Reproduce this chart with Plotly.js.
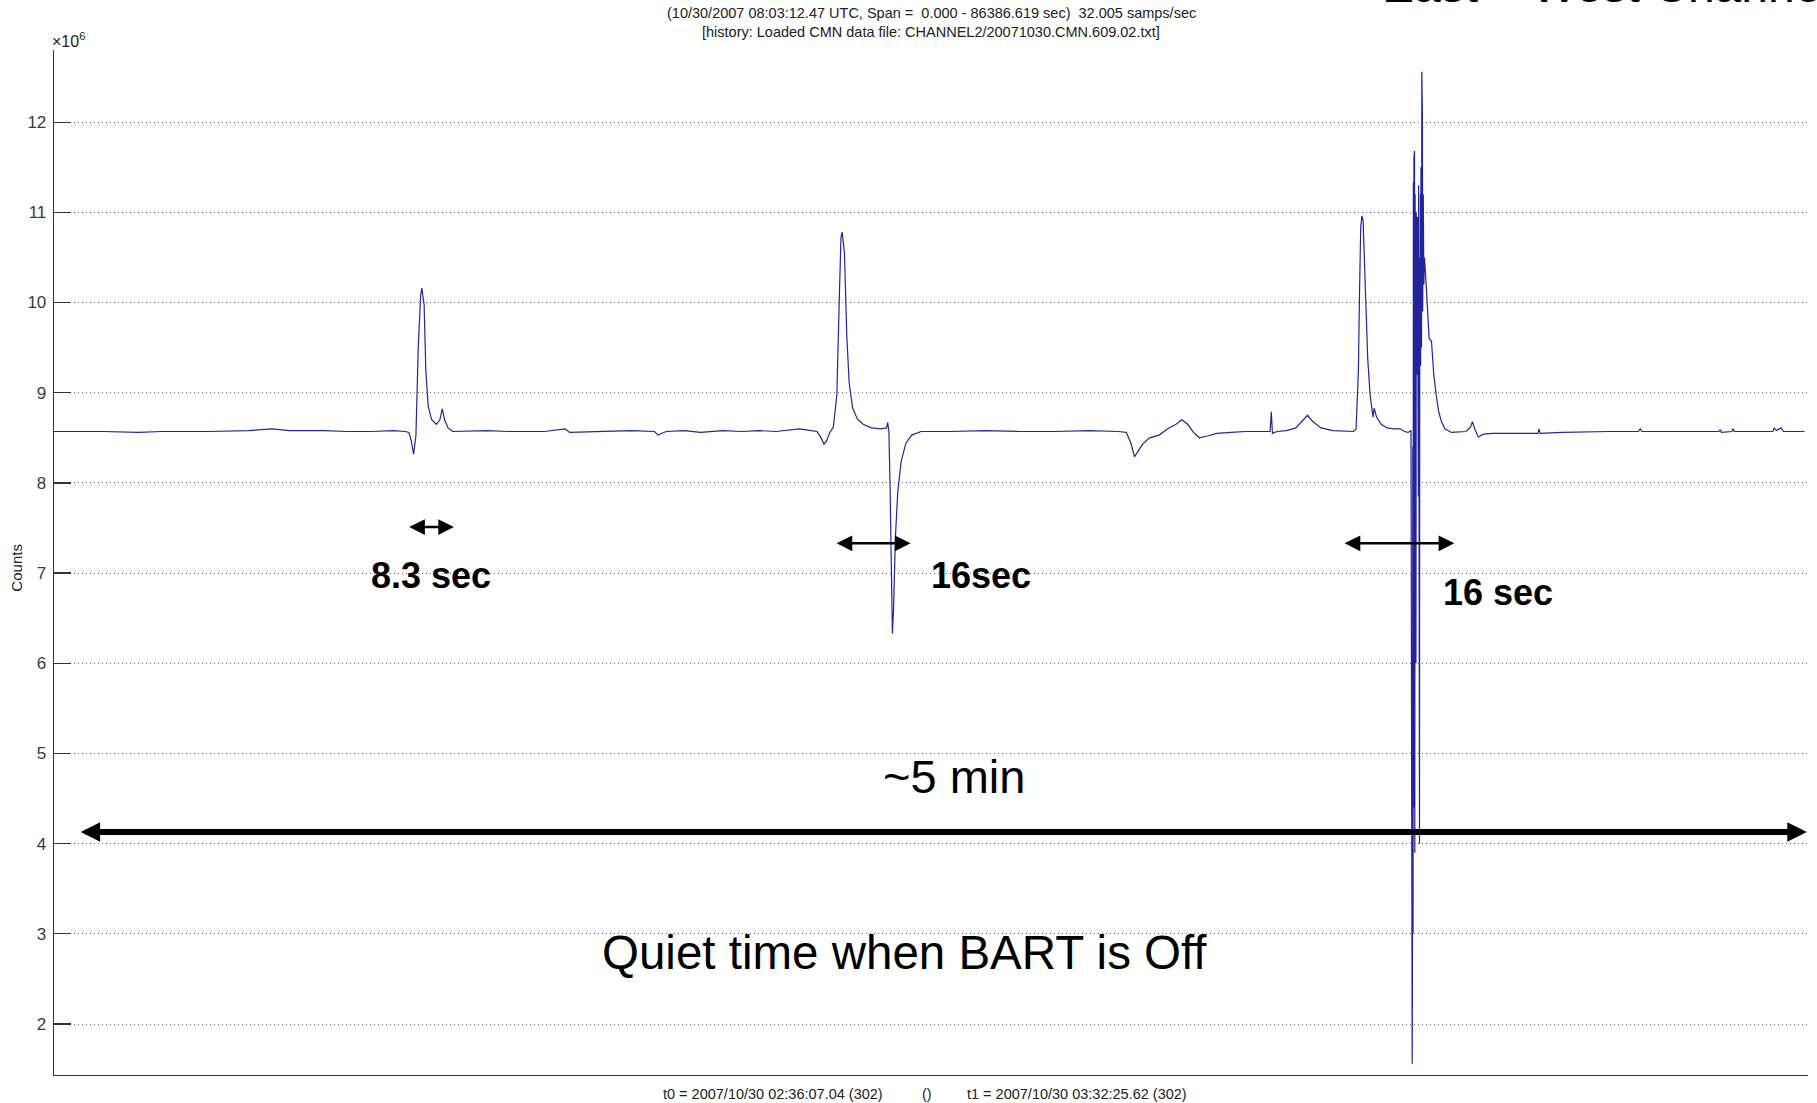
<!DOCTYPE html>
<html>
<head>
<meta charset="utf-8">
<script src="https://cdn.plot.ly/plotly-3.0.1.min.js"></script>
<style>
html, body { margin: 0; padding: 0; background: #ffffff; }
#chart { width: 1817px; height: 1103px; }
</style>
</head>
<body>
<div id="chart"></div>
<script>
// ---- data (time in seconds, counts in units of 10^6) ----
const timeSec = [
  0.0, 8.5, 14.5, 18.4, 26.4, 33.3, 37.3, 40.3, 46.2, 50.2, 54.1, 58.1, 60.1, 60.7, 61.1, 61.5, 61.9, 62.3, 62.7, 62.9,
  63.3, 63.6, 64.0, 64.6, 65.4, 66.0, 66.4, 66.8, 67.4, 68.2, 74.0, 77.9, 83.9, 87.4, 88.2, 93.8, 98.7, 102.7, 103.3, 104.7,
  107.7, 110.6, 114.4, 117.6, 120.6, 123.5, 127.5, 129.5, 130.5, 131.1, 131.7, 132.1, 132.7, 133.3, 133.9, 134.3, 134.6, 134.8, 135.2, 135.6,
  136.0, 136.6, 137.4, 138.4, 139.8, 141.4, 142.4, 142.6, 142.8, 143.0, 143.2, 143.4, 143.6, 143.9, 144.3, 144.9, 145.7, 146.7, 148.3, 153.3,
  159.2, 165.2, 171.1, 177.1, 182.0, 183.4, 184.2, 184.8, 185.4, 186.2, 187.4, 189.0, 190.5, 191.9, 192.9, 193.9, 194.9, 195.9, 197.3, 198.9,
  201.3, 203.8, 206.8, 208.0, 208.2, 208.4, 209.2, 210.8, 212.4, 213.6, 214.4, 215.3, 216.7, 218.7, 220.7, 222.3, 222.7, 223.1, 223.3, 223.5,
  223.7, 223.9, 224.3, 224.7, 225.1, 225.5, 225.6, 225.8, 226.2, 227.0, 228.0, 229.2, 230.2, 231.0, 231.6, 232.1,
  232.30, 232.35, 232.40, 232.45, 232.50, 232.55, 232.60, 232.65, 232.70, 232.75, 232.80, 232.85, 232.90, 232.95, 233.00, 233.05, 233.10, 233.15, 233.20, 233.25,
  233.30, 233.35, 233.40, 233.45, 233.50, 233.55, 233.60, 233.65, 233.70, 233.75, 233.80, 233.90, 233.95, 234.00, 234.05, 234.10, 234.20, 234.30, 234.40, 234.60,
  234.90, 235.20, 235.60, 236.00, 236.40, 236.80, 237.30, 237.90, 239.0, 241.5, 242.3, 242.6, 243.0, 243.6, 244.5, 246.0, 250.0, 253.8, 254.0, 254.2,
  258.0, 263.0, 266.0, 271.0, 271.3, 271.6, 278.0, 284.8, 285.0, 285.2, 287.0, 287.2, 287.4, 292.0, 294.0, 294.2, 294.6, 295.4, 295.8, 299.4
];
const countsMillions = [
  8.57, 8.57, 8.56, 8.57, 8.57, 8.58, 8.60, 8.58, 8.58, 8.57, 8.57, 8.58, 8.57, 8.56, 8.47, 8.32, 8.52, 9.50, 10.07, 10.16,
  9.98, 9.24, 8.85, 8.70, 8.65, 8.70, 8.82, 8.70, 8.61, 8.57, 8.58, 8.57, 8.57, 8.60, 8.56, 8.57, 8.58, 8.57, 8.53, 8.57,
  8.58, 8.56, 8.58, 8.57, 8.58, 8.57, 8.60, 8.58, 8.57, 8.51, 8.43, 8.46, 8.56, 8.62, 8.98, 10.01, 10.72, 10.78, 10.55, 9.63,
  9.11, 8.83, 8.71, 8.65, 8.61, 8.60, 8.61, 8.67, 8.57, 7.96, 7.06, 6.33, 6.61, 7.38, 7.89, 8.24, 8.44, 8.53, 8.57, 8.57,
  8.58, 8.57, 8.57, 8.58, 8.57, 8.56, 8.44, 8.29, 8.35, 8.43, 8.50, 8.53, 8.60, 8.65, 8.70, 8.65, 8.56, 8.50, 8.52, 8.55,
  8.56, 8.57, 8.57, 8.57, 8.79, 8.55, 8.57, 8.58, 8.61, 8.69, 8.75, 8.68, 8.61, 8.58, 8.57, 8.57, 8.60, 9.24, 10.14, 10.84,
  10.96, 10.91, 10.14, 9.37, 8.98, 8.78, 8.73, 8.83, 8.73, 8.65, 8.61, 8.60, 8.60, 8.57, 8.56, 8.58,
  1.56, 2.90, 8.40, 3.00, 11.33, 4.40, 11.60, 5.20, 11.68, 3.90, 11.20, 7.50, 10.90, 6.00, 11.00, 9.40, 10.80, 9.20, 10.95, 9.00,
  10.70, 7.85, 11.30, 8.30, 10.60, 4.00, 10.50, 9.60, 11.20, 9.30, 11.50, 9.50, 12.56, 9.80, 12.08, 9.90, 11.20, 10.20, 10.50, 10.30,
  10.00, 9.60, 9.57, 9.20, 8.98, 8.80, 8.68, 8.60, 8.56, 8.57, 8.62, 8.68, 8.60, 8.51, 8.54, 8.55, 8.55, 8.55, 8.60, 8.55,
  8.56, 8.57, 8.57, 8.57, 8.60, 8.57, 8.57, 8.57, 8.59, 8.56, 8.57, 8.60, 8.57, 8.57, 8.57, 8.61, 8.58, 8.61, 8.57, 8.57
];
const yTickValues = [2, 3, 4, 5, 6, 7, 8, 9, 10, 11, 12];
const yTickLabels = ['2', '3', '4', '5', '6', '7', '8', '9', '10', '11', '12'];
const titleLines = [
  '(10/30/2007 08:03:12.47 UTC, Span =  0.000 - 86386.619 sec)  32.005 samps/sec',
  '[history: Loaded CMN data file: CHANNEL2/20071030.CMN.609.02.txt]'
];
const xLabelParts = ['t0 = 2007/10/30 02:36:07.04 (302)', '()', 't1 = 2007/10/30 03:32:25.62 (302)'];
const yAxisLabel = 'Counts';
const exponentLabel = '×10<sup>6</sup>';
const channelTitle = 'East – West Channel';
const durationLabels = ['8.3 sec', '16sec', '16 sec'];
const spanLabel = '~5 min';
const quietLabel = 'Quiet time when BART is Off';

const FONT = 'Arial, "Liberation Sans", sans-serif';
const TXT = '#222222';

const trace = {
  type: 'scatter',
  mode: 'lines',
  x: timeSec,
  y: countsMillions,
  line: { color: '#24249a', width: 1.2 },
  hoverinfo: 'skip',
  showlegend: false
};

function dblArrow(x0, x1, y, w, s) {
  return {
    xref: 'x', yref: 'y', axref: 'x', ayref: 'y',
    x: x1, y: y, ax: x0, ay: y,
    text: '', showarrow: true,
    arrowhead: 2, startarrowhead: 2, arrowside: 'end+start',
    arrowwidth: w, arrowsize: s, startarrowsize: s,
    arrowcolor: '#000000', standoff: 0, startstandoff: 0
  };
}
function dataText(t, x, y, size, bold) {
  return {
    xref: 'x', yref: 'y', x: x, y: y, text: t, showarrow: false,
    xanchor: 'center', yanchor: 'middle',
    font: { family: FONT, size: size, color: '#000000', weight: bold ? 'bold' : 'normal' }
  };
}

const annotations = [
  // title lines
  { xref: 'paper', yref: 'paper', x: 0.5, y: 1, yshift: 37, xanchor: 'center', yanchor: 'middle',
    text: titleLines[0], showarrow: false, font: { family: FONT, size: 14.5, color: TXT } },
  { xref: 'paper', yref: 'paper', x: 0.5, y: 1, yshift: 18, xanchor: 'center', yanchor: 'middle',
    text: titleLines[1], showarrow: false, font: { family: FONT, size: 14.5, color: TXT } },
  // big channel title, cut by the top edge as in the reference
  { xref: 'paper', yref: 'paper', x: 0.756, y: 1, yshift: 36, xanchor: 'left', yanchor: 'bottom',
    text: channelTitle, showarrow: false, font: { family: FONT, size: 48, color: '#000000' } },
  // exponent label
  { xref: 'paper', yref: 'paper', x: 0, y: 1, xshift: -4, yshift: -2, xanchor: 'left', yanchor: 'bottom',
    text: exponentLabel, showarrow: false, font: { family: FONT, size: 16, color: TXT } },
  // y axis label
  { xref: 'paper', yref: 'paper', x: 0, y: 0.495, xshift: -37, xanchor: 'center', yanchor: 'middle',
    text: yAxisLabel, textangle: -90, showarrow: false, font: { family: FONT, size: 15, color: TXT } },
  // x label parts
  { xref: 'paper', yref: 'paper', x: 0.4735, y: 0, yshift: -19, xanchor: 'right', yanchor: 'middle',
    text: xLabelParts[0], showarrow: false, font: { family: FONT, size: 14.5, color: TXT } },
  { xref: 'paper', yref: 'paper', x: 0.4977, y: 0, yshift: -19, xanchor: 'center', yanchor: 'middle',
    text: xLabelParts[1], showarrow: false, font: { family: FONT, size: 14.5, color: TXT } },
  { xref: 'paper', yref: 'paper', x: 0.5194, y: 0, yshift: -19, xanchor: 'left', yanchor: 'middle',
    text: xLabelParts[2], showarrow: false, font: { family: FONT, size: 14.5, color: TXT } },
  // duration arrows
  dblArrow(60.5, 68.4, 7.51, 2.5, 1.25),
  dblArrow(133.6, 146.5, 7.33, 2.5, 1.25),
  dblArrow(220.5, 239.5, 7.33, 2.5, 1.25),
  dblArrow(4.3, 299.8, 4.13, 6, 0.65),
  // labels
  dataText(durationLabels[0], 64.5, 6.97, 36, true),
  dataText(durationLabels[1], 158.6, 6.97, 36, true),
  dataText(durationLabels[2], 247.0, 6.78, 36, true),
  dataText(spanLabel, 153.9, 4.75, 47, false),
  dataText(quietLabel, 145.4, 2.79, 47.5, false)
];

const layout = {
  width: 1817,
  height: 1103,
  margin: { l: 54, r: 9, t: 50, b: 28, pad: 0 },
  paper_bgcolor: '#ffffff',
  plot_bgcolor: '#ffffff',
  showlegend: false,
  xaxis: {
    range: [0, 300],
    showticklabels: false, ticks: '', showgrid: false, zeroline: false,
    showline: true, linecolor: '#333333', linewidth: 1.3, fixedrange: true
  },
  yaxis: {
    range: [1.435, 12.8],
    tickmode: 'array', tickvals: yTickValues, ticktext: yTickLabels,
    ticks: 'inside', ticklen: 17, tickwidth: 1.3, tickcolor: '#333333',
    tickfont: { family: FONT, size: 17, color: '#3a3a3a' },
    ticklabelstandoff: 3,
    showline: true, linecolor: '#333333', linewidth: 1.3,
    showgrid: true, gridcolor: '#6a6a6a', gridwidth: 1, griddash: '1px,3px',
    zeroline: false, fixedrange: true
  },
  annotations: annotations
};

Plotly.newPlot('chart', [trace], layout, { staticPlot: true, displayModeBar: false });
</script>
</body>
</html>
